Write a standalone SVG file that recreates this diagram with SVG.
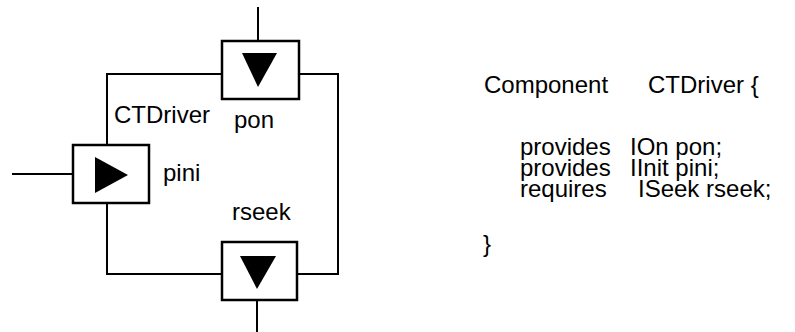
<svg xmlns="http://www.w3.org/2000/svg" width="795" height="332" viewBox="0 0 795 332">
<style>
.t{font-family:"Liberation Sans",Arial,sans-serif;font-size:24px;fill:#000}
.ln{fill:none;stroke:#000;stroke-width:2}
.box{fill:#fff;stroke:#000;stroke-width:2.5}
.tri{fill:#000}
</style>
<rect width="795" height="332" fill="#fff"/>
<g id="connectors">
<line class="ln" x1="258" y1="7" x2="258" y2="41"/>
<line class="ln" x1="12" y1="174" x2="73" y2="174"/>
<line class="ln" x1="257" y1="301" x2="257" y2="332"/>
<polyline class="ln" points="222,74 107,74 107,145"/>
<polyline class="ln" points="107,203 107,274 222,274"/>
<polyline class="ln" points="299,74 338,74 338,274 297,274"/>
</g>
<g id="pon">
<rect class="box" x="222" y="41" width="77" height="58"/>
<polygon class="tri" points="242,53 277,53 258,87"/>
<text class="t" x="234" y="128">pon</text>
</g>
<g id="pini">
<rect class="box" x="73" y="145" width="76" height="58"/>
<polygon class="tri" points="95,157 95,193 128,175"/>
<text class="t" x="163" y="181">pini</text>
</g>
<g id="rseek">
<rect class="box" x="222" y="242" width="75" height="58"/>
<polygon class="tri" points="240,256 276,256 257,289"/>
<text class="t" x="232" y="220">rseek</text>
</g>
<g id="component-label">
<text class="t" x="114" y="123">CTDriver</text>
</g>
<g id="code">
<text class="t" x="484" y="93">Component</text>
<text class="t" x="648" y="93">CTDriver {</text>
<text class="t" x="520" y="155">provides</text>
<text class="t" x="630" y="155">IOn pon;</text>
<text class="t" x="520" y="176">provides</text>
<text class="t" x="630" y="176">IInit pini;</text>
<text class="t" x="520" y="197">requires</text>
<text class="t" x="638" y="197">ISeek rseek;</text>
<text class="t" x="483" y="252">}</text>
</g>
</svg>
